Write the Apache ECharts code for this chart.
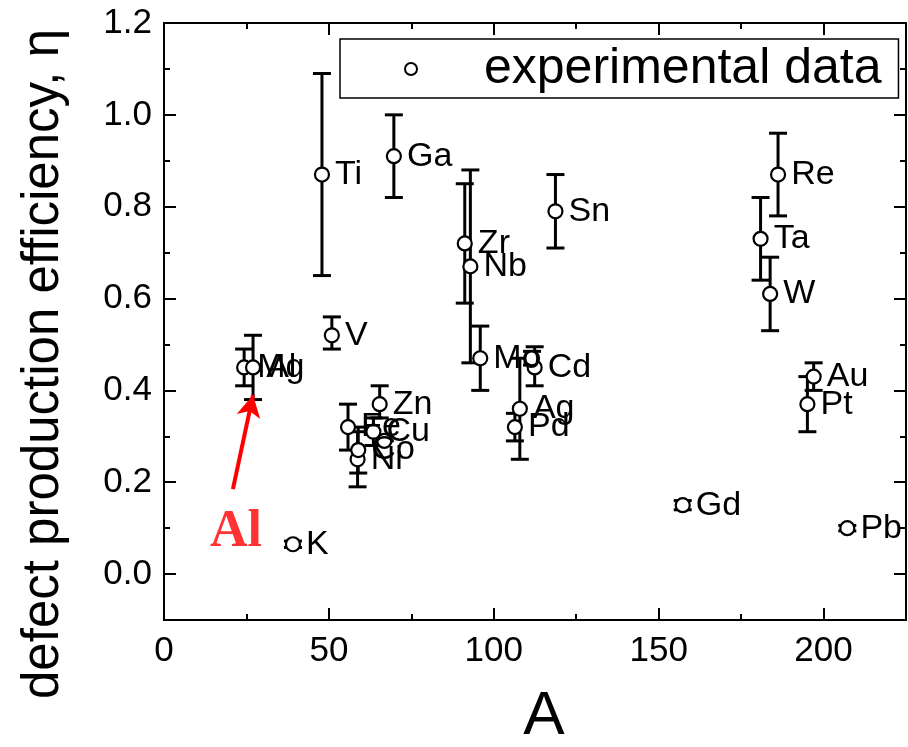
<!DOCTYPE html>
<html>
<head>
<meta charset="utf-8">
<title>defect production efficiency</title>
<script src="https://cdn.jsdelivr.net/npm/echarts@6/dist/echarts.min.js"></script>
<style>
  html, body { margin: 0; padding: 0; background: #fff; }
  #chart { width: 908px; height: 747px; }
</style>
</head>
<body>
<div id="chart"></div>
<script>
// element labels, mass number A, efficiency eta and error bar ends
var elements = ['Mg', 'Al', 'K', 'Ti', 'V', 'Fe', 'Ni', 'Co', 'Cu', 'Zn', 'Ga', 'Zr', 'Nb', 'Mo',
                'Pd', 'Ag', 'Cd', '', '', 'Sn', 'Gd', 'Ta', 'W', 'Re', 'Pt', 'Au', 'Pb'];
var massA = [24.3, 27.0, 39.1, 47.9, 50.9, 55.8, 58.7, 58.9, 63.5, 65.4, 69.7, 91.2, 92.9, 95.9,
             106.4, 107.9, 112.4, 111.6, 66.8, 118.7, 157.3, 180.9, 183.8, 186.2, 195.1, 197.0, 207.2];
var eta = [0.45, 0.45, 0.065, 0.87, 0.52, 0.32, 0.25, 0.27, 0.31, 0.37, 0.91, 0.72, 0.67, 0.47,
           0.32, 0.36, 0.45, 0.47, 0.29, 0.79, 0.15, 0.73, 0.61, 0.87, 0.37, 0.43, 0.10];
var etaLow = [0.41, 0.38, 0.058, 0.65, 0.49, 0.27, 0.19, 0.22, 0.28, 0.34, 0.82, 0.59, 0.46, 0.40,
              0.29, 0.25, 0.41, 0.455, 0.29, 0.71, 0.14, 0.64, 0.53, 0.78, 0.31, 0.40, 0.094];
var etaHigh = [0.49, 0.52, 0.072, 1.09, 0.56, 0.37, 0.31, 0.32, 0.34, 0.41, 1.00, 0.85, 0.88, 0.54,
               0.35, 0.47, 0.495, 0.485, 0.29, 0.87, 0.16, 0.82, 0.69, 0.96, 0.43, 0.46, 0.106];

var xMajor = [0, 50, 100, 150, 200];
var xMinor = [25, 75, 125, 175];
var yMajor = [0, 0.2, 0.4, 0.6, 0.8, 1.0, 1.2];
var yMinor = [0.1, 0.3, 0.5, 0.7, 0.9, 1.1];

// red "Al" arrow annotation (data coordinates)
var arrowFrom = [20.9, 0.185];
var arrowTo = [27.0, 0.39];
var alText = [21.8, 0.091];

var pts = [], bars = [];
for (var i = 0; i < massA.length; i++) {
    pts.push({ value: [massA[i], eta[i]], name: elements[i] });
    bars.push([massA[i], etaLow[i], etaHigh[i]]);
}

var font = 'Liberation Sans, Arial, sans-serif';

function xAx(pos, ticks, len, labels) {
    return {
        type: 'value', position: pos, min: 0, max: 225,
        axisLine: { show: true, onZero: false, lineStyle: { color: '#000', width: 2 } },
        axisTick: { show: true, inside: true, length: len, customValues: ticks, lineStyle: { color: '#000', width: 2 } },
        axisLabel: labels ? { show: true, customValues: ticks, fontSize: 35, color: '#000', fontFamily: font, margin: 14 } : { show: false },
        splitLine: { show: false }
    };
}
function yAx(pos, ticks, len, labels) {
    return {
        type: 'value', position: pos, min: -0.1, max: 1.2,
        axisLine: { show: true, onZero: false, lineStyle: { color: '#000', width: 2 } },
        axisTick: { show: true, inside: true, length: len, customValues: ticks, lineStyle: { color: '#000', width: 2 } },
        axisLabel: labels ? {
            show: true, customValues: ticks, fontSize: 35, color: '#000', fontFamily: font, margin: 12,
            formatter: function (v) { return v.toFixed(1); }
        } : { show: false },
        splitLine: { show: false }
    };
}

var xAxes = [xAx('bottom', xMajor, 12, true), xAx('bottom', xMinor, 6, false),
             xAx('top', xMajor, 12, false), xAx('top', xMinor, 6, false)];
xAxes[0].name = 'A';
xAxes[0].nameLocation = 'middle';
xAxes[0].nameGap = 66;
xAxes[0].nameTextStyle = { fontSize: 62, color: '#000', fontFamily: font, padding: [0, 0, 0, 18] };

var yAxes = [yAx('left', yMajor, 12, true), yAx('left', yMinor, 6, false),
             yAx('right', yMajor, 12, false), yAx('right', yMinor, 6, false)];

var myChart = echarts.init(document.getElementById('chart'));

myChart.setOption({
    backgroundColor: '#fff',
    animation: false,
    grid: { left: 164, right: 2, top: 23, bottom: 127, outerBoundsMode: 'none' },
    xAxis: xAxes,
    yAxis: yAxes,
    graphic: [{
        type: 'text',
        x: 44, y: 364,
        rotation: Math.PI / 2,
        style: {
            text: 'defect production efficiency, \u03b7',
            fontSize: 51, fill: '#000', fontFamily: font,
            textAlign: 'center', textVerticalAlign: 'middle'
        }
    }],
    legend: {
        data: ['experimental data'],
        left: 340, top: 39,
        orient: 'horizontal',
        padding: [5, 17, 4, 64],
        borderColor: '#000', borderWidth: 1.5,
        itemWidth: 12, itemHeight: 14,
        textStyle: { fontSize: 50, color: '#000', fontFamily: font, padding: [0, 0, 0, 62] }
    },
    series: [
        {
            name: 'errorbars',
            type: 'custom',
            z: 2,
            data: bars,
            renderItem: function (params, api) {
                var x = api.value(0);
                var lo = api.coord([x, api.value(1)]);
                var hi = api.coord([x, api.value(2)]);
                var cap = 9;
                var st = { stroke: '#000', lineWidth: 3 };
                return {
                    type: 'group',
                    children: [
                        { type: 'line', shape: { x1: lo[0], y1: lo[1], x2: hi[0], y2: hi[1] }, style: st },
                        { type: 'line', shape: { x1: lo[0] - cap, y1: lo[1], x2: lo[0] + cap, y2: lo[1] }, style: st },
                        { type: 'line', shape: { x1: hi[0] - cap, y1: hi[1], x2: hi[0] + cap, y2: hi[1] }, style: st }
                    ]
                };
            }
        },
        {
            name: 'experimental data',
            type: 'scatter',
            z: 3,
            symbol: 'circle',
            symbolSize: 14,
            itemStyle: { color: '#fff', borderColor: '#000', borderWidth: 2.2, opacity: 1 },
            label: {
                show: true, position: 'right', distance: 5,
                formatter: function (p) { return p.name; },
                fontSize: 34, color: '#000', fontFamily: font
            },
            emphasis: { disabled: true },
            data: pts,
            markLine: {
                silent: true,
                symbol: ['none', 'arrow'],
                symbolSize: [18, 22],
                label: { show: false },
                lineStyle: { color: '#ff0000', width: 4, type: 'solid' },
                data: [[{ coord: arrowFrom }, { coord: arrowTo }]]
            }
        },
        {
            name: 'annotation',
            type: 'scatter',
            symbolSize: 0,
            z: 4,
            data: [alText],
            label: {
                show: true, position: 'inside', formatter: 'Al',
                fontSize: 52, fontWeight: 'bold', color: '#ff0000',
                fontFamily: 'Liberation Serif, Times New Roman, serif'
            }
        }
    ]
});
</script>
</body>
</html>
